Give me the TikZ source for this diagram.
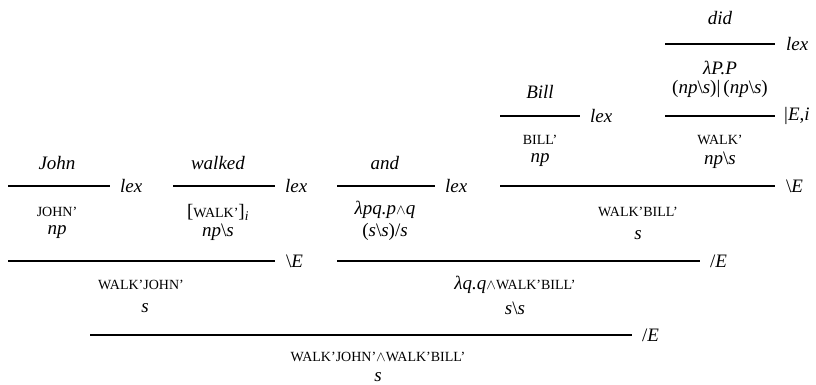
\documentclass[tikz,border=0pt]{standalone}
\usepackage{fontspec}
\setmainfont{Liberation Serif}
\newcommand{\sem}[1]{{\fontsize{14}{16}\selectfont #1}}
\newcommand{\bsl}{\textbackslash}
\newcommand{\conj}{$\scriptstyle\wedge$}
\begin{document}
\begin{tikzpicture}[x=1pt,y=-1pt,font=\fontsize{19}{22}\selectfont,
  rule/.style={line width=1.3pt},
  tag/.style={anchor=west,inner sep=0pt}]
\useasboundingbox (0,0) rectangle (816,385);

% John
\node (john) at (57,163) {\textit{John}};
\draw[rule] (8,186) -- (110,186);
\node[tag] (johnlex) at (120,186) {\textit{lex}};
\node (johnsem) at (57,212) {\sem{JOHN’}};
\node (johncat) at (57,232) {\textit{np}};

% walked
\node (walked) at (218,163) {\textit{walked}};
\draw[rule] (173,186) -- (275,186);
\node[tag] (walkedlex) at (285,186) {\textit{lex}};
\node (walkedsem) at (218,212) {[\sem{WALK’}]\textsubscript{\textit{i}}};
\node (walkedcat) at (218,232) {\textit{np}\bsl\textit{s}};

% and
\node (and) at (385,163) {\textit{and}};
\draw[rule] (337,186) -- (435,186);
\node[tag] (andlex) at (445,186) {\textit{lex}};
\node (andsem) at (385,210) {\textit{λpq.p}\conj\textit{q}};
\node (andcat) at (385,232) {(\textit{s}\bsl\textit{s})/\textit{s}};

% Bill
\node (bill) at (540,92) {\textit{Bill}};
\draw[rule] (500,116) -- (580,116);
\node[tag] (billlex) at (590,116) {\textit{lex}};
\node (billsem) at (540,140) {\sem{BILL’}};
\node (billcat) at (540,160) {\textit{np}};

% did
\node (did) at (720,18) {\textit{did}};
\draw[rule] (665,44) -- (775,44);
\node[tag] (didlex) at (786,44) {\textit{lex}};
\node (didsem) at (720,68) {\textit{λP.P}};
\node (didcat) at (720,89) {(\textit{np}\bsl\textit{s})|\,(\textit{np}\bsl\textit{s})};
\draw[rule] (665,116) -- (775,116);
\node[tag] (didrule) at (784,116) {|\textit{E},\textit{i}};
\node (walksem) at (720,140) {\sem{WALK’}};
\node (walkcat) at (720,160) {\textit{np}\bsl\textit{s}};

% Bill did
\draw[rule] (500,186) -- (775,186);
\node[tag] (bdrule) at (786,186) {\bsl\textit{E}};
\node (bdsem) at (638,212) {\sem{WALK’BILL’}};
\node (bdcat) at (638,235) {\textit{s}};

% John walked
\draw[rule] (8,261) -- (275,261);
\node[tag] (jwrule) at (286,261) {\bsl\textit{E}};
\node (jwsem) at (141,285) {\sem{WALK’JOHN’}};
\node (jwcat) at (145,308) {\textit{s}};

% and Bill did
\draw[rule] (337,261) -- (700,261);
\node[tag] (abdrule) at (710,261) {/\textit{E}};
\node (abdsem) at (515,285) {\textit{λq.q}\conj\sem{WALK’BILL’}};
\node (abdcat) at (515,308) {\textit{s}\bsl\textit{s}};

% whole sentence
\draw[rule] (90,335) -- (632,335);
\node[tag] (allrule) at (642,335) {/\textit{E}};
\node (allsem) at (378,357) {\sem{WALK’JOHN’}\conj\sem{WALK’BILL’}};
\node (allcat) at (378,377) {\textit{s}};

\end{tikzpicture}
\end{document}
